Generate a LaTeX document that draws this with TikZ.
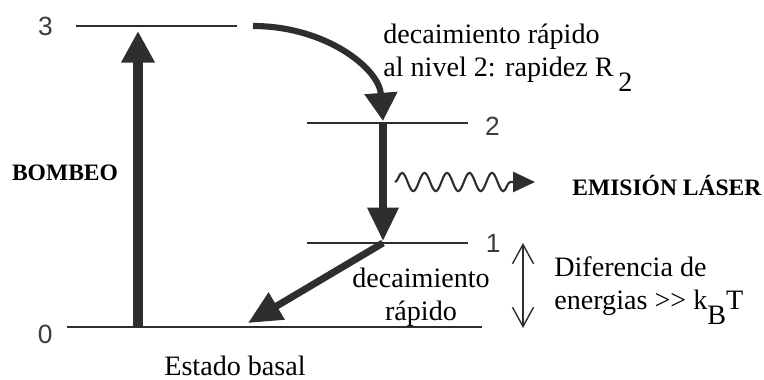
\documentclass[tikz,border=0pt]{standalone}
\usepackage{fontspec}
\setmainfont{Liberation Serif}
\newfontfamily\numfont{Liberation Sans}
\usetikzlibrary{arrows.meta,decorations.pathmorphing,positioning}
\definecolor{linegray}{HTML}{2E2E2E}
\definecolor{numgray}{HTML}{3C3C3C}

\begin{document}
\begin{tikzpicture}[x=0.02cm, y=-0.02cm,
    every node/.style={font=\fontsize{16}{18.5}\selectfont, inner sep=0pt},
    lvl/.style={draw=linegray, line width=1pt},
    num/.style={font=\numfont\fontsize{15}{18}\selectfont, text=numgray},
    boldlabel/.style={font=\fontsize{13.4}{16}\selectfont\bfseries},
    fat/.style={draw=linegray, line width=#1},
    bigtip/.style={-{Triangle[length=19pt, width=17pt]}}]
    \useasboundingbox (0,0) rectangle (764,379);
    % niveles de energia
    \coordinate (l3a) at (76,26);  \coordinate (l3b) at (237,26);
    \coordinate (l2a) at (307,123); \coordinate (l2b) at (468,123);
    \coordinate (l1a) at (307,243); \coordinate (l1b) at (468,243);
    \coordinate (l0a) at (67,327);  \coordinate (l0b) at (482,327);
    \draw[lvl] (l3a) -- (l3b);
    \draw[lvl] (l2a) -- (l2b);
    \draw[lvl] (l1a) -- (l1b);
    \draw[lvl] (l0a) -- (l0b);
    \node[num, left=13pt of l3a] (n3) {3};
    \node[num, right=9.5pt of l2b, yshift=-2pt] (n2) {2};
    \node[num, right=10pt of l1b] (n1) {1};
    \node[num, left=8pt of l0a, yshift=-4.5pt] (n0) {0};
    % bombeo
    \coordinate (pb) at (138,327); \coordinate (pt) at (138,31);
    \draw[fat=5.2pt, -{Triangle[length=18pt, width=18pt]}] (pb) -- (pt);
    \node[boldlabel] (bombeo) at (65,173) {BOMBEO};
    % decaimiento 3 -> 2
    \coordinate (d3) at (253,26); \coordinate (d2) at (383,121);
    \draw[fat=3.5pt, -{Triangle[length=16pt, width=18pt]}] (d3) .. controls (325,26) and (379,68) .. (d2);
    \node[anchor=north west, align=left] (dec32) at (383,24)
        {decaimiento rápido\\al nivel 2: rapidez R\,\raisebox{-.55em}{2}};
    % transicion laser 2 -> 1
    \coordinate (t2) at (383,123); \coordinate (t1) at (383,241);
    \draw[fat=4pt, bigtip] (t2) -- (t1);
    \coordinate (ws) at (395,182); \coordinate (we) at (535,182);
    \draw[draw=linegray, line width=1.2pt, -{Triangle[length=12.5pt, width=11.5pt]},
        decorate, decoration={snake, amplitude=5.2pt, segment length=12.8pt, post length=12.5pt}] (ws) -- (we);
    \node[boldlabel, anchor=west] (laser) at (572,186) {EMISIÓN LÁSER};
    % decaimiento 1 -> 0
    \coordinate (u1) at (383,243); \coordinate (u0) at (248,323);
    \draw[fat=4pt, bigtip] (u1) -- (u0);
    \node[align=center] (dec10) at (421,297) {decaimiento\\rápido};
    \node (basal) at (235,366) {Estado basal};
    % diferencia de energias
    \coordinate (ea) at (523,243); \coordinate (eb) at (523,328);
    \draw[draw=linegray, line width=0.8pt, {Straight Barb[length=11pt, width=12pt]}-{Straight Barb[length=11pt, width=12pt]}] (ea) -- (eb);
    \node[anchor=west, align=left] (dif) at (554,291)
        {Diferencia de\\energias >{}> k\raisebox{-.55em}{B}T};
\end{tikzpicture}
\end{document}
